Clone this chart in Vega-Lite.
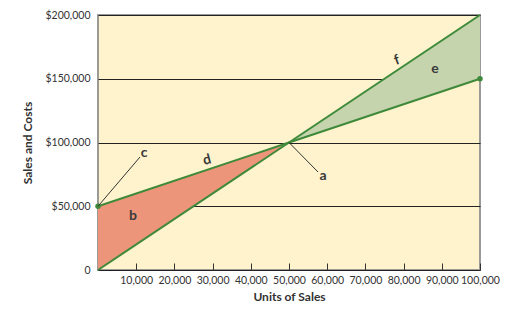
{
  "$schema": "https://vega.github.io/schema/vega-lite/v6.json",
  "width": 382,
  "height": 255,
  "autosize": {"type": "none"},
  "padding": {"left": 98, "top": 15, "right": 47, "bottom": 47},
  "background": "white",
  "config": {
    "view": {"fill": "#fef3cc", "stroke": "#9a9a96", "strokeWidth": 2},
    "font": "Lato"
  },
  "datasets": {
    "pts": [
      {"units": 0, "costs": 50000, "sales": 0},
      {"units": 50000, "costs": 100000, "sales": 100000},
      {"units": 100000, "costs": 150000, "sales": 200000}
    ],
    "labels": [
      {"lx": 12042, "ly": 91765, "t": "c", "ang": 0},
      {"lx": 28534, "ly": 86275, "t": "d", "ang": -15},
      {"lx": 58900, "ly": 73725, "t": "a", "ang": 0},
      {"lx": 9162, "ly": 42353, "t": "b", "ang": 0},
      {"lx": 88220, "ly": 157647, "t": "e", "ang": 0},
      {"lx": 78272, "ly": 164500, "t": "f", "ang": -20}
    ],
    "leaders": [
      {"x1": 0, "y1": 50000, "x2": 10995, "y2": 88627},
      {"x1": 50000, "y1": 100000, "x2": 57592, "y2": 76863}
    ]
  },
  "layer": [
    {
      "data": {"name": "pts"},
      "transform": [{"filter": "datum.units <= 50000"}],
      "mark": {"type": "area", "color": "#ec957b", "opacity": 1},
      "encoding": {
        "x": {
          "field": "units", "type": "quantitative",
          "scale": {"domain": [0, 100000], "nice": false},
          "axis": {
            "title": "Units of Sales",
            "values": [10000, 20000, 30000, 40000, 50000, 60000, 70000, 80000, 90000, 100000],
            "format": ",d",
            "grid": false,
            "domain": false,
            "tickSize": -7,
            "tickColor": "#333",
            "labelPadding": 12,
            "labelFontSize": 10.5,
            "labelColor": "#333",
            "labelOverlap": false,
            "labelFlush": false,
            "labelBound": false,
            "titleFontSize": 12,
            "titleFontWeight": "bold",
            "titleColor": "#333",
            "titlePadding": 6
          }
        },
        "y": {
          "field": "costs", "type": "quantitative",
          "scale": {"domain": [0, 200000], "nice": false},
          "axis": {
            "title": "Sales and Costs",
            "values": [0, 50000, 100000, 150000, 200000],
            "labelExpr": "datum.value == 0 ? '0' : '$' + format(datum.value, ',d')",
            "grid": true,
            "gridColor": "#222",
            "gridWidth": 1,
            "domain": false,
            "ticks": false,
            "labelPadding": 8,
            "labelFontSize": 10.5,
            "labelColor": "#333",
            "labelOverlap": false,
            "labelFlush": false,
            "titleFontSize": 12,
            "titleFontWeight": "bold",
            "titleColor": "#333",
            "titlePadding": 10
          }
        },
        "y2": {"field": "sales"}
      }
    },
    {
      "data": {"name": "pts"},
      "transform": [{"filter": "datum.units >= 50000"}],
      "mark": {"type": "area", "color": "#c6d4ae", "opacity": 1},
      "encoding": {
        "x": {"field": "units", "type": "quantitative"},
        "y": {"field": "sales", "type": "quantitative"},
        "y2": {"field": "costs"}
      }
    },
    {
      "data": {"name": "pts"},
      "mark": {"type": "line", "color": "#3e8a3a", "strokeWidth": 2},
      "encoding": {
        "x": {"field": "units", "type": "quantitative"},
        "y": {"field": "costs", "type": "quantitative"}
      }
    },
    {
      "data": {"name": "pts"},
      "mark": {"type": "line", "color": "#3e8a3a", "strokeWidth": 2},
      "encoding": {
        "x": {"field": "units", "type": "quantitative"},
        "y": {"field": "sales", "type": "quantitative"}
      }
    },
    {
      "data": {"name": "pts"},
      "transform": [{"filter": "datum.units != 50000"}],
      "mark": {"type": "point", "filled": true, "color": "#3e8a3a", "size": 30, "opacity": 1},
      "encoding": {
        "x": {"field": "units", "type": "quantitative"},
        "y": {"field": "costs", "type": "quantitative"}
      }
    },
    {
      "data": {"name": "leaders"},
      "mark": {"type": "rule", "color": "#333", "strokeWidth": 1},
      "encoding": {
        "x": {"field": "x1", "type": "quantitative"},
        "y": {"field": "y1", "type": "quantitative"},
        "x2": {"field": "x2"},
        "y2": {"field": "y2"}
      }
    },
    {
      "data": {"name": "labels"},
      "mark": {"type": "text", "fontSize": 14, "color": "#3a3a3a", "fontWeight": "bold"},
      "encoding": {
        "x": {"field": "lx", "type": "quantitative"},
        "y": {"field": "ly", "type": "quantitative"},
        "text": {"field": "t"},
        "angle": {"field": "ang", "type": "quantitative", "scale": null}
      }
    }
  ]
}
